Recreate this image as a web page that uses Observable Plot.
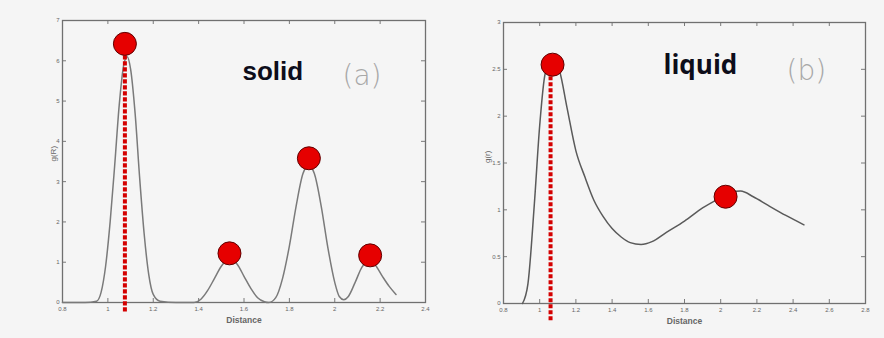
<!DOCTYPE html>
<html>
<head>
<meta charset="utf-8">
<script src="https://cdn.jsdelivr.net/npm/d3@7"></script>
<script src="https://cdn.jsdelivr.net/npm/@observablehq/plot@0.6"></script>
<style>
  html, body { margin: 0; padding: 0; background: #f5f5f5; }
  #wrap { position: relative; width: 884px; height: 338px; overflow: hidden; }
  #a { position: absolute; left: 0; top: 0; }
  #b { position: absolute; left: 450px; top: 0; }
  svg { background: transparent !important; }
</style>
</head>
<body>
<div id="wrap"><div id="a"></div><div id="b"></div></div>
<script>
// ---- data: panel (a) solid ----
const solidDistance = [0.80,0.90,0.95,0.97,0.99,1.01,1.03,1.05,1.07,1.085,1.10,1.12,1.14,1.16,1.18,1.20,1.23,1.30,1.38,1.41,1.44,1.47,1.50,1.535,1.57,1.60,1.63,1.66,1.69,1.71,1.74,1.77,1.80,1.83,1.86,1.885,1.91,1.94,1.97,2.00,2.02,2.04,2.06,2.09,2.12,2.15,2.18,2.21,2.24,2.27];
const solidG        = [0.00,0.00,0.03,0.25,0.90,2.00,3.40,4.90,5.90,6.10,5.80,4.70,3.10,1.70,0.70,0.20,0.03,0.00,0.00,0.08,0.30,0.60,0.90,1.08,0.95,0.65,0.35,0.12,0.02,0.00,0.12,0.60,1.40,2.40,3.20,3.40,3.20,2.40,1.35,0.50,0.15,0.07,0.15,0.50,0.88,1.02,0.92,0.65,0.40,0.20];
const solidPeakX = [1.075, 1.536, 1.886, 2.156];
const solidPeakG = [6.42, 1.22, 3.58, 1.17];
const solidXTicks = [0.8,1,1.2,1.4,1.6,1.8,2,2.2,2.4];
const solidYTicks = [0,1,2,3,4,5,6,7];

// ---- data: panel (b) liquid ----
const liquidDistance = [0.905,0.935,0.97,1.00,1.03,1.07,1.11,1.15,1.20,1.25,1.30,1.35,1.40,1.45,1.50,1.56,1.62,1.70,1.80,1.90,2.00,2.06,2.11,2.18,2.26,2.36,2.46];
const liquidG        = [0.00,0.21,1.05,1.90,2.45,2.60,2.48,2.10,1.63,1.35,1.10,0.93,0.80,0.71,0.65,0.63,0.66,0.76,0.88,1.02,1.13,1.19,1.20,1.14,1.05,0.94,0.84];
const liquidPeakX = [1.071, 2.027];
const liquidPeakG = [2.55, 1.14];
const liquidXTicks = [0.8,1,1.2,1.4,1.6,1.8,2,2.2,2.4,2.6,2.8];
const liquidYTicks = [0,0.5,1,1.5,2,2.5,3];

function panel(cfg) {
  const {width, height, m, xDomain, yDomain, xs, ys, peaksX, peaksG, xTicks, yTicks,
         dashX, ylabel, title, titleFont, tag, titlePos, tagPos, curveColor, dashExtra} = cfg;
  const innerW = width - m.left - m.right;
  const innerH = height - m.top - m.bottom;
  const curve = xs.map((x, i) => ({x, g: ys[i]}));
  const peaks = peaksX.map((x, i) => ({x, g: peaksG[i]}));
  const tickColor = "#7a7a7a";
  return Plot.plot({
    width, height,
    marginTop: m.top, marginRight: m.right, marginBottom: m.bottom, marginLeft: m.left,
    style: {background: "transparent", fontFamily: "Liberation Sans, Arial, sans-serif"},
    x: {domain: xDomain},
    y: {domain: yDomain},
    marks: [
      Plot.axisX({ticks: xTicks, tickSize: 0, tickPadding: 4, fontSize: 6, color: "#666", label: null, tickFormat: d => String(d)}),
      Plot.axisY({ticks: yTicks, tickSize: 0, tickPadding: 3, fontSize: 6, color: "#666", label: null, tickFormat: d => String(d)}),
      // inward ticks (box style)
      Plot.tickX(xTicks, {x: d => d, insetTop: innerH - 4, stroke: tickColor}),
      Plot.tickX(xTicks, {x: d => d, insetBottom: innerH - 4, stroke: tickColor}),
      Plot.tickY(yTicks, {y: d => d, insetRight: innerW - 4, stroke: tickColor}),
      Plot.tickY(yTicks, {y: d => d, insetLeft: innerW - 4, stroke: tickColor}),
      Plot.frame({stroke: "#707070", strokeWidth: 1.3}),
      Plot.line(curve, {x: "x", y: "g", stroke: curveColor, strokeWidth: 1.5, curve: "monotone-x"}),
      Plot.ruleX([peaks[0]], {x: () => dashX, y1: "g", y2: 0, insetBottom: -dashExtra, stroke: "#d40000", strokeWidth: 4, strokeDasharray: "4.2,1.8"}),
      Plot.dot(peaks, {x: "x", y: "g", r: 11.5, fill: "#e60000", stroke: "#600000", strokeWidth: 1}),
      Plot.text([ylabel], {frameAnchor: "left", dx: cfg.ylabelDx, rotate: -90, fontSize: 8, fill: "#666"}),
      Plot.text(["Distance"], {frameAnchor: "bottom", dy: 20, fontSize: 8.5, fill: "#666", fontWeight: "bold"}),
      Plot.text([title], {frameAnchor: "top-left", textAnchor: "start", dx: titlePos[0], dy: titlePos[1], fontSize: 26, fontWeight: "bold", fill: "#0d0d1a", fontFamily: titleFont}),
      Plot.text([tag], {frameAnchor: "top-left", textAnchor: "start", dx: tagPos[0], dy: tagPos[1], fontSize: 28, fontWeight: 300, fill: "#a8a8a8", fontFamily: "DejaVu Sans, sans-serif"})
    ]
  });
}

document.getElementById("a").appendChild(panel({
  width: 450, height: 338, m: {top: 20, right: 25, bottom: 36, left: 62},
  xDomain: [0.8, 2.4], yDomain: [0, 7],
  xs: solidDistance, ys: solidG, peaksX: solidPeakX, peaksG: solidPeakG,
  xTicks: solidXTicks, yTicks: solidYTicks, dashX: solidPeakX[0],
  ylabel: "g(R)", ylabelDx: -9, title: "solid", titleFont: "Liberation Sans, Arial, sans-serif",
  tag: "(a)", titlePos: [180, 41], tagPos: [280, 45], curveColor: "#7a7a7a", dashExtra: 11
}));

document.getElementById("b").appendChild(panel({
  width: 434, height: 338, m: {top: 22, right: 19, bottom: 35, left: 53},
  xDomain: [0.8, 2.8], yDomain: [0, 3],
  xs: liquidDistance, ys: liquidG, peaksX: liquidPeakX, peaksG: liquidPeakG,
  xTicks: liquidXTicks, yTicks: liquidYTicks, dashX: 1.06,
  ylabel: "g(r)", ylabelDx: -16, title: "liquid", titleFont: "Open Sans, sans-serif",
  tag: "(b)", titlePos: [160, 33], tagPos: [283, 38], curveColor: "#5a5a5a", dashExtra: 19
}));
</script>
</body>
</html>
